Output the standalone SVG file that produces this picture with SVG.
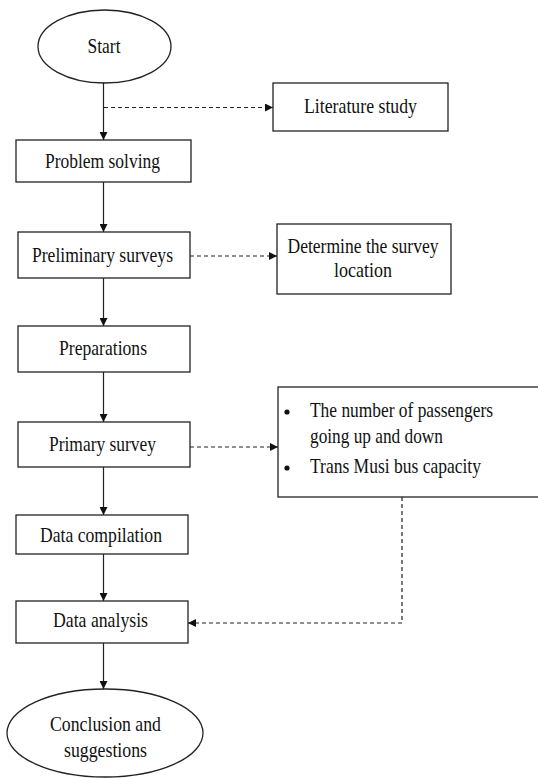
<svg xmlns="http://www.w3.org/2000/svg" width="538" height="778" viewBox="0 0 538 778">
<defs>
<style>
.box{fill:#fff;stroke:#222;stroke-width:1.3}
.t{font-family:"Liberation Serif","Times New Roman",serif;font-size:21px;fill:#111;text-anchor:middle}
.tl{font-family:"Liberation Serif","Times New Roman",serif;font-size:21px;fill:#111}
.solid{fill:none;stroke:#222;stroke-width:1.2;marker-end:url(#ah)}
.dash{fill:none;stroke:#222;stroke-width:1.2;stroke-dasharray:4 3;marker-end:url(#ah)}
</style>
<marker id="ah" markerUnits="userSpaceOnUse" markerWidth="9" markerHeight="8" refX="8" refY="4" orient="auto">
<path d="M0,0 L8,4 L0,8 Z" fill="#111"/>
</marker>
</defs>
<rect width="538" height="778" fill="#fff"/>
<g id="connectors">
<path class="solid" d="M103.5,83 V140"/>
<path class="solid" d="M103.5,182 V232"/>
<path class="solid" d="M103.5,278 V326"/>
<path class="solid" d="M103.5,372 V422"/>
<path class="solid" d="M103.5,467 V515"/>
<path class="solid" d="M103.5,554 V601"/>
<path class="solid" d="M103.5,643 V689"/>
<path class="dash" d="M104,107.5 H273"/>
<path class="dash" d="M190,256 H277"/>
<path class="dash" d="M190,447 H278"/>
<path class="dash" d="M402,497 V623 H188"/>
</g>
<g id="start">
<ellipse class="box" cx="104.5" cy="46.5" rx="66.5" ry="36.5"/>
<text class="t" x="104" y="53" textLength="33" lengthAdjust="spacingAndGlyphs">Start</text>
</g>
<g id="literature">
<rect class="box" x="273" y="83" width="175" height="48"/>
<text class="t" x="360.5" y="113" textLength="113" lengthAdjust="spacingAndGlyphs">Literature study</text>
</g>
<g id="problem">
<rect class="box" x="16" y="140" width="175" height="42"/>
<text class="t" x="102.5" y="168" textLength="115" lengthAdjust="spacingAndGlyphs">Problem solving</text>
</g>
<g id="preliminary">
<rect class="box" x="18" y="232" width="172" height="46"/>
<text class="t" x="102.5" y="262" textLength="141" lengthAdjust="spacingAndGlyphs">Preliminary surveys</text>
</g>
<g id="determine">
<rect class="box" x="277" y="224" width="174" height="70"/>
<text class="t" x="363" y="253" textLength="151" lengthAdjust="spacingAndGlyphs">Determine the survey</text>
<text class="t" x="363" y="277" textLength="58" lengthAdjust="spacingAndGlyphs">location</text>
</g>
<g id="preparations">
<rect class="box" x="18" y="326" width="172" height="46"/>
<text class="t" x="103" y="355" textLength="88" lengthAdjust="spacingAndGlyphs">Preparations</text>
</g>
<g id="variables">
<rect class="box" x="278" y="387" width="264" height="110"/>
<circle cx="287" cy="412" r="2.6" fill="#111"/>
<circle cx="287" cy="468" r="2.6" fill="#111"/>
<text class="tl" x="310" y="417" textLength="183" lengthAdjust="spacingAndGlyphs">The number of passengers</text>
<text class="tl" x="310" y="443" textLength="133" lengthAdjust="spacingAndGlyphs">going up and down</text>
<text class="tl" x="310" y="473" textLength="171" lengthAdjust="spacingAndGlyphs">Trans Musi bus capacity</text>
</g>
<g id="primary">
<rect class="box" x="18" y="422" width="172" height="45"/>
<text class="t" x="102.5" y="451" textLength="107" lengthAdjust="spacingAndGlyphs">Primary survey</text>
</g>
<g id="compilation">
<rect class="box" x="16" y="515" width="172" height="39"/>
<text class="t" x="101" y="542" textLength="122" lengthAdjust="spacingAndGlyphs">Data compilation</text>
</g>
<g id="analysis">
<rect class="box" x="16" y="601" width="172" height="42"/>
<text class="t" x="100.5" y="627" textLength="95" lengthAdjust="spacingAndGlyphs">Data analysis</text>
</g>
<g id="conclusion">
<ellipse class="box" cx="105" cy="733" rx="98" ry="44"/>
<text class="t" x="105.5" y="731" textLength="111" lengthAdjust="spacingAndGlyphs">Conclusion and</text>
<text class="t" x="105.5" y="757" textLength="83" lengthAdjust="spacingAndGlyphs">suggestions</text>
</g>
</svg>
